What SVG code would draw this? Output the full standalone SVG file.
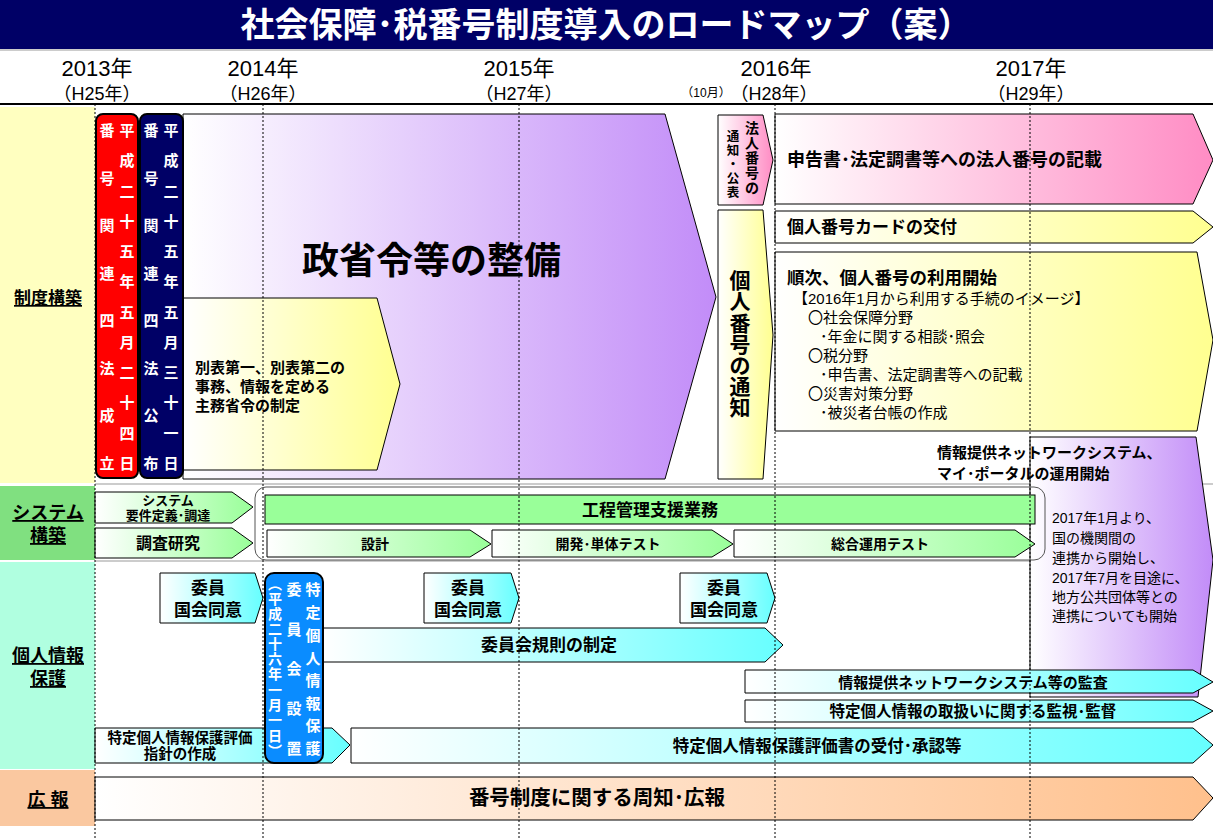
<svg xmlns="http://www.w3.org/2000/svg" width="1213" height="839" viewBox="0 0 1213 839">
<defs>
<style>
text{font-family:"Liberation Sans","Noto Sans CJK JP",sans-serif;fill:#000}
.b{font-weight:bold}
.c{text-anchor:middle}
.v{text-anchor:middle;dominant-baseline:central}
.w{fill:#fff}
.u{text-decoration:underline}
.sh{stroke:#000;stroke-width:1}
.grid{stroke:#000;stroke-width:1;stroke-dasharray:2 2;fill:none}
</style>
<linearGradient id="gP" x1="0" x2="1" y1="0" y2="0"><stop offset="0" stop-color="#fff"/><stop offset="1" stop-color="#C28CF8"/></linearGradient>
<linearGradient id="gY" x1="0" x2="1" y1="0" y2="0"><stop offset="0" stop-color="#fff"/><stop offset="1" stop-color="#FFFF90"/></linearGradient>
<linearGradient id="gK" x1="0" x2="1" y1="0" y2="0"><stop offset="0" stop-color="#fff"/><stop offset="1" stop-color="#FF8CC4"/></linearGradient>
<linearGradient id="gG" x1="0" x2="1" y1="0" y2="0"><stop offset="0" stop-color="#fff"/><stop offset="1" stop-color="#99FF99"/></linearGradient>
<linearGradient id="gC" x1="0" x2="1" y1="0" y2="0"><stop offset="0" stop-color="#fff"/><stop offset="1" stop-color="#66FFFF"/></linearGradient>
<linearGradient id="gO" x1="0" x2="1" y1="0" y2="0"><stop offset="0" stop-color="#fff"/><stop offset="1" stop-color="#FFC08C"/></linearGradient>
</defs>
<rect x="0" y="0" width="1213" height="839" fill="#fff"/>

<g id="title">
<rect x="0" y="0" width="1213" height="49" fill="#000066"/>
<rect x="0" y="49" width="1213" height="2" fill="#cccccc"/>
<text class="b c w" x="606" y="37" font-size="34">社会保障･税番号制度導入のロードマップ（案）</text>
</g>

<g id="header">
<text class="c" x="97" y="76" font-size="22">2013年</text>
<text class="c" x="97" y="100" font-size="18">（H25年）</text>
<text class="c" x="263" y="76" font-size="22">2014年</text>
<text class="c" x="263" y="100" font-size="18">（H26年）</text>
<text class="c" x="519" y="76" font-size="22">2015年</text>
<text class="c" x="519" y="100" font-size="18">（H27年）</text>
<text class="c" x="776" y="76" font-size="22">2016年</text>
<text class="c" x="774" y="100" font-size="18">（H28年）</text>
<text class="c" x="706" y="97" font-size="12">（10月）</text>
<text class="c" x="1031" y="76" font-size="22">2017年</text>
<text class="c" x="1031" y="100" font-size="18">（H29年）</text>
<line x1="0" y1="104" x2="1213" y2="104" stroke="#000" stroke-width="2"/>
</g>

<g id="categories">
<rect x="0" y="107" width="95" height="376" fill="#FFFFC0"/>
<rect x="0" y="486" width="95" height="74" fill="#80E080"/>
<rect x="0" y="562" width="95" height="207" fill="#B0FFE0"/>
<rect x="0" y="770" width="95" height="56" fill="#FAC8A0"/>
<text class="b c u" x="48" y="304" font-size="17">制度構築</text>
<text class="b c u" x="48" y="519" font-size="18">システム</text>
<text class="b c u" x="48" y="542" font-size="18">構築</text>
<text class="b c u" x="48" y="662" font-size="18">個人情報</text>
<text class="b c u" x="48" y="685" font-size="18">保護</text>
<text class="b c u" x="48" y="806" font-size="18" xml:space="preserve">広 報</text>
</g>

<g id="row-separators" stroke="#999" stroke-width="1">
<line x1="95" y1="484" x2="1213" y2="484"/>
<line x1="95" y1="561" x2="1213" y2="561"/>
</g>

<g id="seishorei">
<polygon class="sh" points="183,114 665,114 716,297 665,479 183,479" fill="url(#gP)"/>
<text class="b" x="302" y="274" font-size="37">政省令等の整備</text>
</g>

<g id="beppyo">
<polygon class="sh" points="183,298 377,298 400,384 377,470 183,470" fill="url(#gY)"/>
<text class="b" x="195" y="373" font-size="15">別表第一、別表第二の</text>
<text class="b" x="195" y="392" font-size="15">事務、情報を定める</text>
<text class="b" x="195" y="411" font-size="15">主務省令の制定</text>
</g>

<g id="red-box">
<rect x="96" y="114" width="42" height="364" rx="7" fill="#FF0000" stroke="#000" stroke-width="2"/>
<text class="b v w" font-size="15"><tspan x="127" y="130">平</tspan><tspan x="127" y="160">成</tspan><tspan x="127" y="191">二</tspan><tspan x="127" y="221">十</tspan><tspan x="127" y="251">五</tspan><tspan x="127" y="281">年</tspan><tspan x="127" y="312">五</tspan><tspan x="127" y="342">月</tspan><tspan x="127" y="372">二</tspan><tspan x="127" y="402">十</tspan><tspan x="127" y="433">四</tspan><tspan x="127" y="463">日</tspan></text>
<text class="b v w" font-size="15"><tspan x="107" y="130">番</tspan><tspan x="107" y="178">号</tspan><tspan x="107" y="225">関</tspan><tspan x="107" y="273">連</tspan><tspan x="107" y="320">四</tspan><tspan x="107" y="368">法</tspan><tspan x="107" y="415">成</tspan><tspan x="107" y="463">立</tspan></text>
</g>

<g id="navy-box">
<rect x="140" y="114" width="43" height="364" rx="7" fill="#000066" stroke="#000" stroke-width="2"/>
<text class="b v w" font-size="15"><tspan x="171" y="130">平</tspan><tspan x="171" y="160">成</tspan><tspan x="171" y="191">二</tspan><tspan x="171" y="221">十</tspan><tspan x="171" y="251">五</tspan><tspan x="171" y="281">年</tspan><tspan x="171" y="312">五</tspan><tspan x="171" y="342">月</tspan><tspan x="171" y="372">三</tspan><tspan x="171" y="402">十</tspan><tspan x="171" y="433">一</tspan><tspan x="171" y="463">日</tspan></text>
<text class="b v w" font-size="15"><tspan x="151" y="130">番</tspan><tspan x="151" y="178">号</tspan><tspan x="151" y="225">関</tspan><tspan x="151" y="273">連</tspan><tspan x="151" y="320">四</tspan><tspan x="151" y="368">法</tspan><tspan x="151" y="415">公</tspan><tspan x="151" y="463">布</tspan></text>
</g>

<g id="hojin-tsuchi">
<polygon class="sh" points="718,115 763,115 773,160 763,205 718,205" fill="url(#gK)"/>
<text class="b v" font-size="14"><tspan x="752" y="128">法</tspan><tspan x="752" y="143">人</tspan><tspan x="752" y="158">番</tspan><tspan x="752" y="173">号</tspan><tspan x="752" y="188">の</tspan></text>
<text class="b v" font-size="12.5"><tspan x="733" y="137">通</tspan><tspan x="733" y="151">知</tspan><tspan x="733" y="165">・</tspan><tspan x="733" y="179">公</tspan><tspan x="733" y="193">表</tspan></text>
</g>

<g id="kojin-tsuchi">
<polygon class="sh" points="718,210 763,210 773,335 763,479 718,479" fill="url(#gY)"/>
<text class="b v" font-size="21"><tspan x="740" y="280">個</tspan><tspan x="740" y="301">人</tspan><tspan x="740" y="323">番</tspan><tspan x="740" y="344">号</tspan><tspan x="740" y="365">の</tspan><tspan x="740" y="386">通</tspan><tspan x="740" y="407">知</tspan></text>
</g>

<g id="shinkoku">
<polygon class="sh" points="775,114 1193,114 1213,160 1193,204 775,204" fill="url(#gK)"/>
<text class="b" x="787" y="166" font-size="18">申告書･法定調書等への法人番号の記載</text>
</g>

<g id="card">
<polygon class="sh" points="775,211 1193,211 1213,227 1193,243 775,243" fill="url(#gY)"/>
<text class="b" x="787" y="233" font-size="17">個人番号カードの交付</text>
</g>

<g id="riyou">
<polygon class="sh" points="775,252 1197,252 1213,340 1197,431 775,431" fill="url(#gY)"/>
<text class="b" x="787" y="284" font-size="17.5">順次、個人番号の利用開始</text>
<text x="793" y="304" font-size="15">【2016年1月から利用する手続のイメージ】</text>
<text x="808" y="323" font-size="15">〇社会保障分野</text>
<text x="820" y="342" font-size="15">･年金に関する相談･照会</text>
<text x="808" y="361" font-size="15">〇税分野</text>
<text x="820" y="380" font-size="15">･申告書、法定調書等への記載</text>
<text x="808" y="399" font-size="15">〇災害対策分野</text>
<text x="820" y="418" font-size="15">･被災者台帳の作成</text>
</g>

<g id="network">
<polygon class="sh" points="1030,437 1196,437 1213,560 1198,697 1030,697" fill="url(#gP)"/>
<text class="b" x="937" y="458" font-size="15">情報提供ネットワークシステム、</text>
<text class="b" x="937" y="479" font-size="15">マイ･ポータルの運用開始</text>
<text x="1052" y="523" font-size="14">2017年1月より、</text>
<text x="1052" y="543" font-size="14">国の機関間の</text>
<text x="1052" y="563" font-size="14">連携から開始し、</text>
<text x="1052" y="583" font-size="14">2017年7月を目途に、</text>
<text x="1052" y="602" font-size="14">地方公共団体等との</text>
<text x="1052" y="621" font-size="14">連携についても開始</text>
</g>

<g id="sys-youken">
<polygon class="sh" points="95,492 232,492 253,507 232,523 95,523" fill="url(#gG)"/>
<text class="b c" x="168" y="505" font-size="13">システム</text>
<text class="b c" x="168" y="520" font-size="13">要件定義･調達</text>
</g>
<g id="sys-chousa">
<polygon class="sh" points="95,528 232,528 253,543 232,558 95,558" fill="url(#gG)"/>
<text class="b c" x="168" y="549" font-size="16">調査研究</text>
</g>
<g id="sys-container">
<rect x="255" y="487" width="790" height="73" rx="11" fill="none" stroke="#555" stroke-width="1"/>
</g>
<g id="koutei">
<rect x="265" y="495" width="770" height="29" fill="#99FF99" stroke="#000" stroke-width="1"/>
<text class="b c" x="650" y="516" font-size="17">工程管理支援業務</text>
</g>
<g id="sekkei">
<polygon class="sh" points="267,530 470,530 491,544 470,557 267,557" fill="url(#gG)"/>
<text class="b c" x="375" y="549" font-size="14">設計</text>
</g>
<g id="kaihatsu">
<polygon class="sh" points="492,530 712,530 733,544 712,557 492,557" fill="url(#gG)"/>
<text class="b c" x="608" y="549" font-size="14">開発･単体テスト</text>
</g>
<g id="sougou">
<polygon class="sh" points="734,530 1015,530 1035,544 1015,557 734,557" fill="url(#gG)"/>
<text class="b c" x="880" y="549" font-size="14">総合運用テスト</text>
</g>

<g id="doui-1">
<polygon class="sh" points="160,573 255,573 263,598 255,623 160,623" fill="url(#gC)"/>
<text class="b c" x="208" y="594" font-size="17">委員</text>
<text class="b c" x="208" y="616" font-size="17">国会同意</text>
</g>
<g id="doui-2">
<polygon class="sh" points="424,573 511,573 519,598 511,623 424,623" fill="url(#gC)"/>
<text class="b c" x="468" y="594" font-size="17">委員</text>
<text class="b c" x="468" y="616" font-size="17">国会同意</text>
</g>
<g id="doui-3">
<polygon class="sh" points="680,573 767,573 775,598 767,623 680,623" fill="url(#gC)"/>
<text class="b c" x="724" y="594" font-size="17">委員</text>
<text class="b c" x="724" y="616" font-size="17">国会同意</text>
</g>

<g id="kisoku">
<polygon class="sh" points="322,628 765,628 783,645 765,662 322,662" fill="url(#gC)"/>
<text class="b c" x="549" y="651" font-size="17">委員会規則の制定</text>
</g>
<g id="kansa">
<polygon class="sh" points="745,670 1193,670 1213,682 1193,693 745,693" fill="url(#gC)"/>
<text class="b c" x="973" y="688" font-size="15">情報提供ネットワークシステム等の監査</text>
</g>
<g id="kanshi">
<polygon class="sh" points="745,700 1193,700 1213,711 1193,722 745,722" fill="url(#gC)"/>
<text class="b c" x="973" y="717" font-size="15.5">特定個人情報の取扱いに関する監視･監督</text>
</g>
<g id="shishin">
<polygon class="sh" points="95,728 332,728 350,745 332,763 95,763" fill="url(#gC)"/>
<text class="b c" x="180" y="743" font-size="14.5">特定個人情報保護評価</text>
<text class="b c" x="180" y="759" font-size="14.5">指針の作成</text>
</g>
<g id="uketsuke">
<polygon class="sh" points="351,728 1193,728 1213,745 1193,763 351,763" fill="url(#gC)"/>
<text class="b c" x="817" y="752" font-size="16.5">特定個人情報保護評価書の受付･承認等</text>
</g>

<g id="iinkai-box">
<rect x="265" y="573" width="58" height="190" rx="9" fill="#0A8CFF" stroke="#000" stroke-width="2"/>
<text class="b v w" font-size="15"><tspan x="313" y="589">特</tspan><tspan x="313" y="612">定</tspan><tspan x="313" y="635">個</tspan><tspan x="313" y="658">人</tspan><tspan x="313" y="680">情</tspan><tspan x="313" y="703">報</tspan><tspan x="313" y="725">保</tspan><tspan x="313" y="748">護</tspan></text>
<text class="b v w" font-size="15"><tspan x="294" y="589">委</tspan><tspan x="294" y="629">員</tspan><tspan x="294" y="668">会</tspan><tspan x="294" y="708">設</tspan><tspan x="294" y="748">置</tspan></text>
<text class="b v w" font-size="14"><tspan x="275" y="584">︵</tspan><tspan x="275" y="599">平</tspan><tspan x="275" y="614">成</tspan><tspan x="275" y="629">二</tspan><tspan x="275" y="644">十</tspan><tspan x="275" y="659">六</tspan><tspan x="275" y="674">年</tspan><tspan x="275" y="690">一</tspan><tspan x="275" y="705">月</tspan><tspan x="275" y="720">一</tspan><tspan x="275" y="736">日</tspan><tspan x="275" y="751">︶</tspan></text>
</g>

<g id="kouhou">
<polygon class="sh" points="95,777 1193,777 1213,798 1193,820 95,820" fill="url(#gO)"/>
<text class="b c" x="597" y="805" font-size="20.5">番号制度に関する周知･広報</text>
</g>

<g id="connectors">
<line class="grid" x1="95" y1="104" x2="95" y2="839" stroke-width="1.5" stroke-dasharray="3 2"/>
<line class="grid" x1="263" y1="104" x2="263" y2="839"/>
<line class="grid" x1="519" y1="104" x2="519" y2="839"/>
<line class="grid" x1="775" y1="104" x2="775" y2="839" stroke-width="2" stroke-dasharray="9 2"/>
<line class="grid" x1="1030" y1="104" x2="1030" y2="839"/>
</g>
</svg>
